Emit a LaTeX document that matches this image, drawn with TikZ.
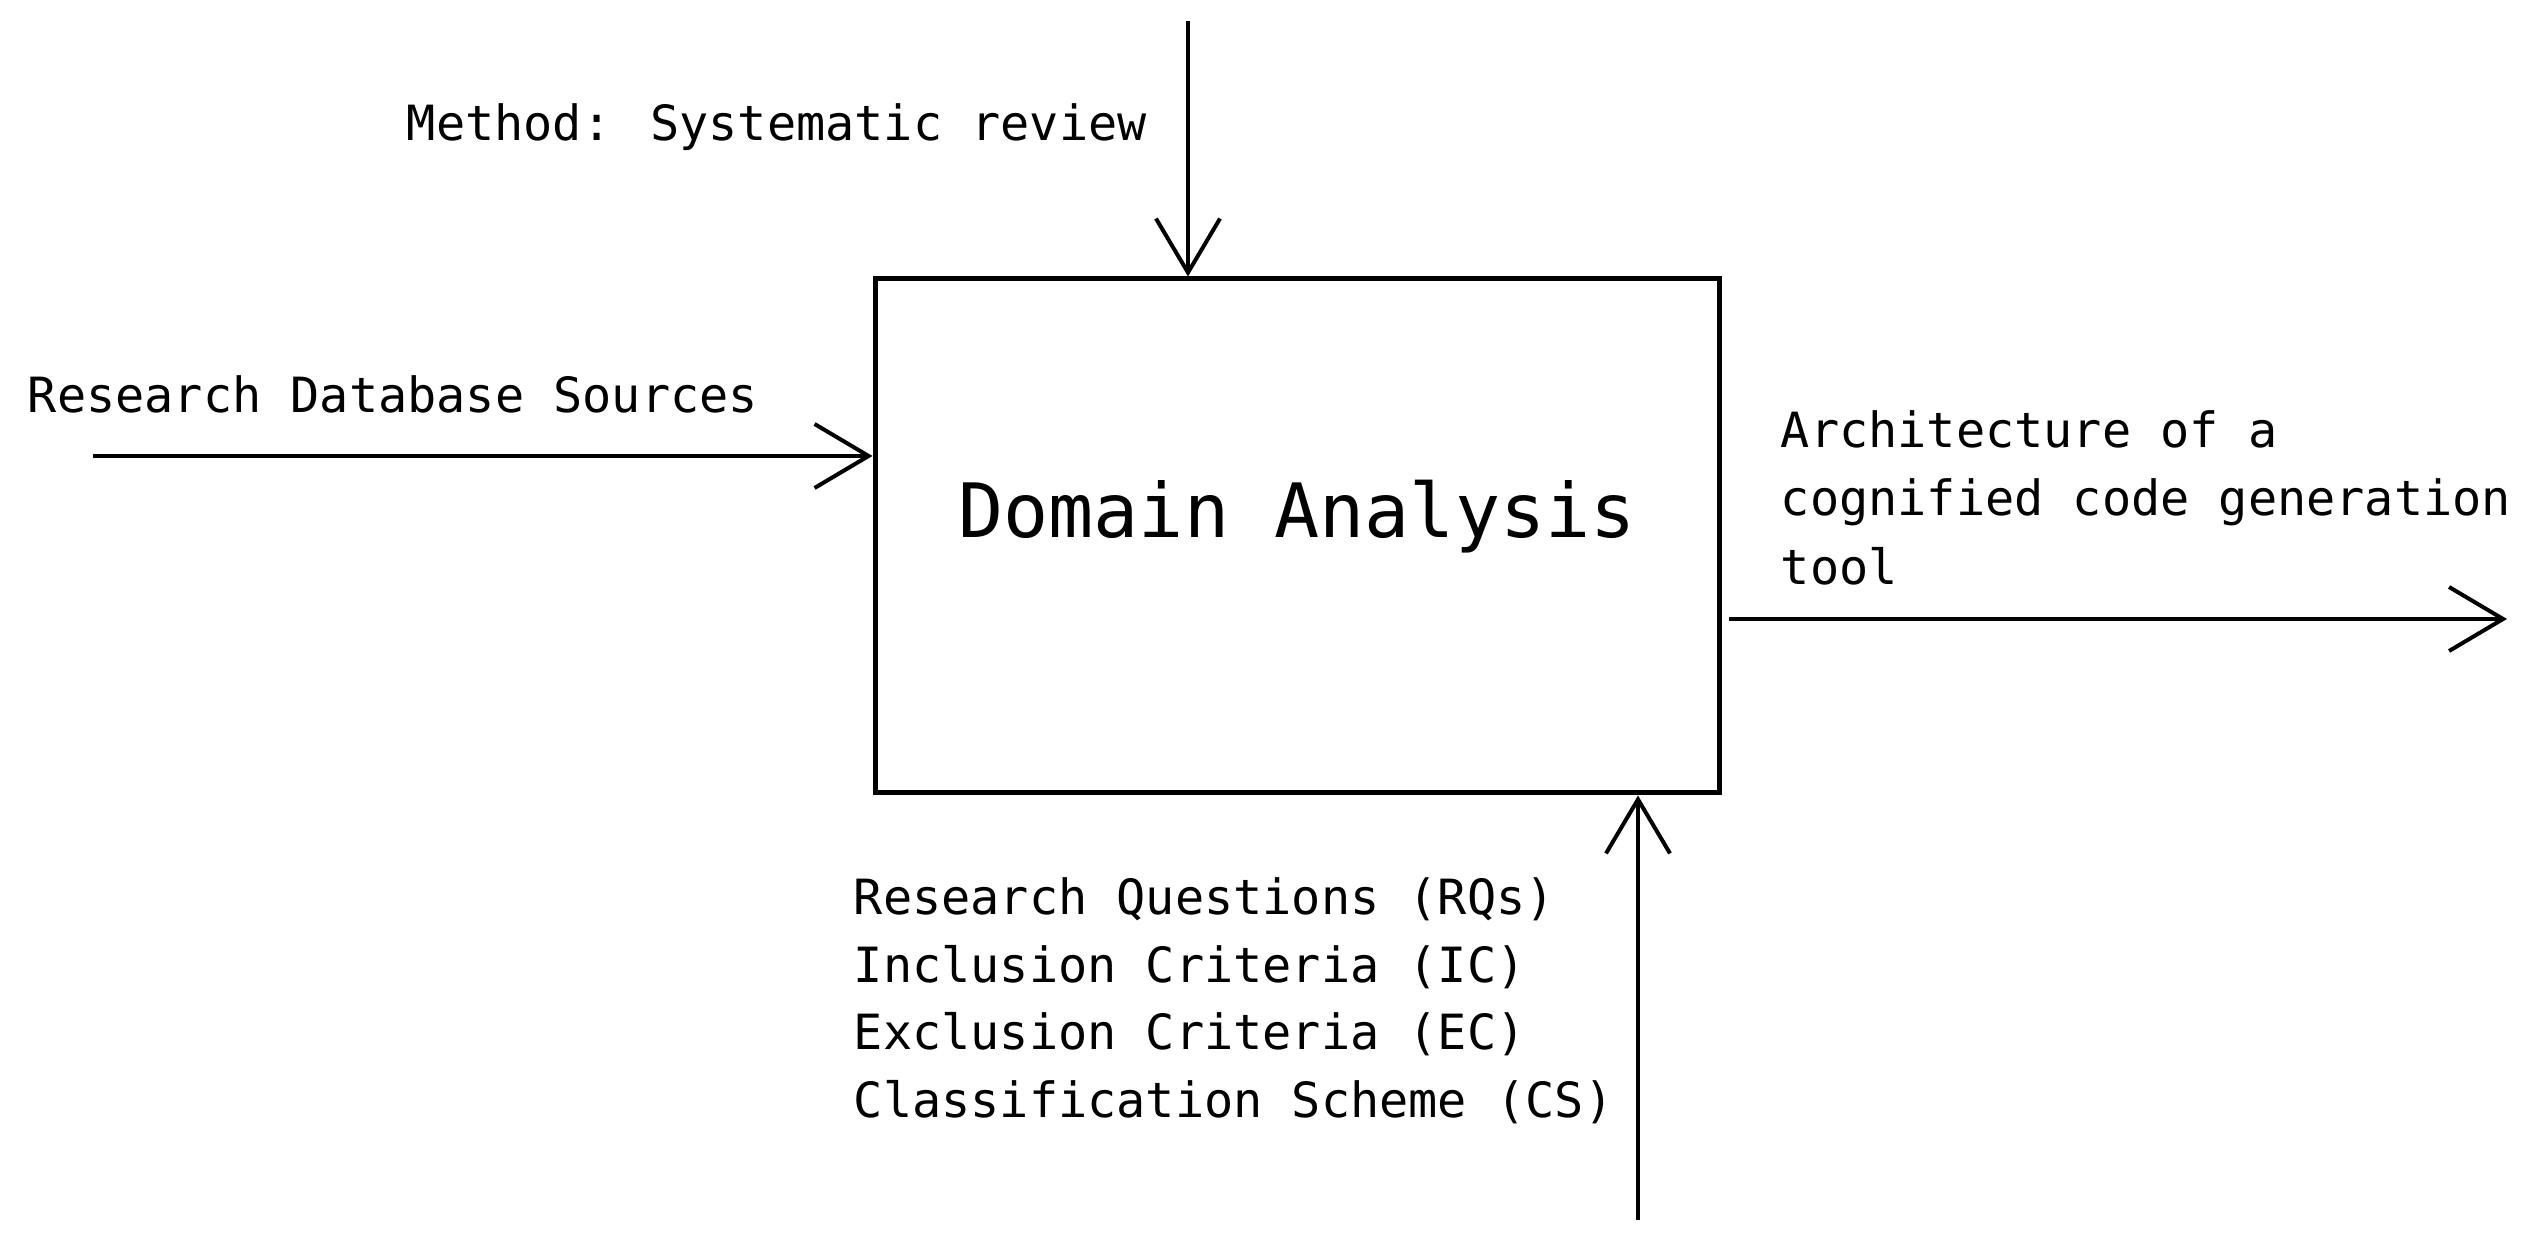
\documentclass[tikz,border=0pt]{standalone}
\usepackage{fontspec}
\newfontfamily\dvm{DejaVu Sans Mono}
\usetikzlibrary{arrows.meta}
\begin{document}
\begin{tikzpicture}[x=0.25pt,y=-0.25pt,
  lbl/.style={anchor=base west,inner sep=0pt,font=\fontsize{12.13}{17}\selectfont\dvm},
  procbox/.style={draw,line width=1.25pt,inner sep=0pt,minimum width=211pt,minimum height=128.5pt,
    text height=13.7pt,text depth=12.7pt,font=\fontsize{18.75}{22}\selectfont\dvm},
  flow/.style={line width=1pt,-{Straight Barb[length=13.5pt,width=16pt,line width=1pt]}}]
\fill[white] (0,0) rectangle (2531,1250);
\useasboundingbox (0,0) rectangle (2531,1250);
\node[procbox] (box) at (1297,536) {Domain Analysis};
% control (top)
\coordinate (mtop) at (1188,21);
\node[lbl] (method) at (406,141) {Method: Systematic review};
\draw[flow] (mtop) -- (mtop |- box.north);
% input (left)
\coordinate (ltail) at (93,456);
\node[lbl] (rds) at (27,413) {Research Database Sources};
\draw[flow] (ltail) -- (ltail -| box.west);
% output (right)
\coordinate (rhead) at (2507,619);
\coordinate (rstart) at (1729,619);
\node[lbl] (arch1) at (1780,448) {Architecture of a};
\node[lbl] (arch2) at (1780,516) {cognified code generation};
\node[lbl] (arch3) at (1780,585) {tool};
\draw[flow] (rstart) -- (rhead);
% mechanism (bottom)
\coordinate (btail) at (1638,1220);
\node[lbl] (rq) at (853,915) {Research Questions (RQs)};
\node[lbl] (ic) at (853,983) {Inclusion Criteria (IC)};
\node[lbl] (ec) at (853,1050) {Exclusion Criteria (EC)};
\node[lbl] (cs) at (853,1118) {Classification Scheme (CS)};
\draw[flow] (btail) -- (btail |- box.south);
\end{tikzpicture}
\end{document}
